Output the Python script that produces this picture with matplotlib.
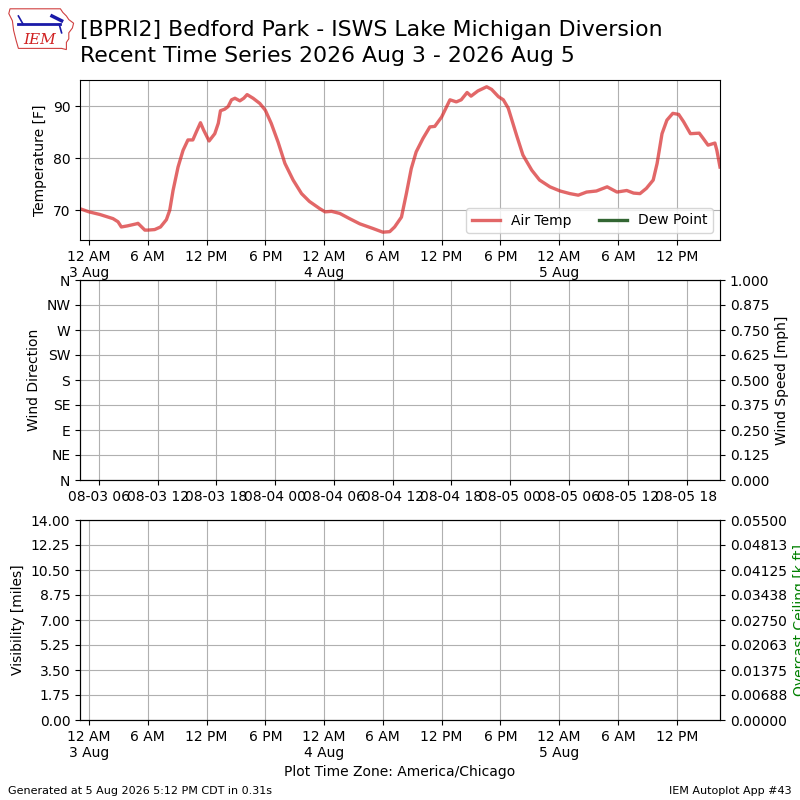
import datetime as dt
import numpy as np
import matplotlib
matplotlib.use("Agg")
import matplotlib.pyplot as plt
import matplotlib.dates as mdates
from matplotlib.ticker import FuncFormatter, FormatStrFormatter
from matplotlib.patches import Polygon

# ---------------- data ----------------
# hours since 2026-08-03 00:00 CDT
temp_hours = [-0.92, 0.0, 1.1, 2.45, 2.96, 3.3, 3.9, 4.84, 5.0, 5.7, 6.0, 6.7, 7.3, 7.9,
              8.24, 8.58, 9.09, 9.6, 10.1, 10.6, 10.97, 11.38, 11.7, 12.26, 12.84, 13.2,
              13.42, 13.85, 14.2, 14.55, 14.9, 15.4, 15.8, 16.14, 16.75, 17.44, 18.0,
              18.6, 19.3, 20.0, 20.84, 21.7, 22.5, 23.57, 24.1, 24.76, 25.6, 26.6, 27.65,
              29.0, 30.0, 30.7, 31.2, 31.9, 32.4, 32.9, 33.4, 34.1, 34.8, 35.3, 36.0,
              36.85, 37.5, 38.0, 38.6, 39.0, 39.7, 40.6, 41.1, 41.8, 42.3, 42.8, 43.65,
              44.3, 45.2, 46.0, 47.06, 48.1, 49.1, 49.95, 50.8, 51.8, 52.9, 53.4, 53.9,
              54.9, 55.6, 56.25, 56.9, 57.6, 58.0, 58.5, 59.0, 59.6, 60.2, 60.7, 61.4,
              62.3, 62.7, 63.2, 63.9, 64.1, 64.42]
temp_values = [70.3, 69.7, 69.2, 68.4, 67.8, 66.8, 67.0, 67.4, 67.5, 66.2, 66.2, 66.3, 66.8, 68.2,
               70.0, 73.8, 78.3, 81.5, 83.5, 83.5, 85.1, 86.8, 85.4, 83.3, 84.7, 86.7,
               89.1, 89.4, 89.9, 91.2, 91.5, 91.0, 91.5, 92.2, 91.5, 90.5, 89.2,
               86.7, 83.1, 79.0, 75.8, 73.2, 71.7, 70.3, 69.7, 69.8, 69.4, 68.4, 67.4,
               66.5, 65.8, 65.9, 66.8, 68.7, 73.2, 78.0, 81.2, 83.8, 86.0, 86.1, 87.9,
               91.2, 90.8, 91.2, 92.6, 91.9, 92.9, 93.7, 93.2, 91.8, 91.2, 89.6, 84.4,
               80.6, 77.7, 75.8, 74.5, 73.7, 73.2, 72.9, 73.5, 73.7, 74.5, 74.0, 73.5,
               73.8, 73.3, 73.2, 74.2, 75.8, 79.0, 84.7, 87.3, 88.6, 88.4, 87.0, 84.7,
               84.8, 83.8, 82.5, 82.9, 81.5, 78.3]
dewp_hours = []
dewp_values = []

dir_ticks = [0, 45, 90, 135, 180, 225, 270, 315, 360]
dir_labels = ["N", "NE", "E", "SE", "S", "SW", "W", "NW", "N"]
speed_ticks = [0, 0.125, 0.25, 0.375, 0.5, 0.625, 0.75, 0.875, 1.0]
vis_ticks = [0, 1.75, 3.5, 5.25, 7.0, 8.75, 10.5, 12.25, 14.0]
ceil_ticks = [0, 0.006875, 0.01375, 0.020625, 0.0275, 0.034375, 0.04125, 0.048125, 0.055]

# ---------------- setup ----------------
CDT = dt.timezone(dt.timedelta(hours=-5))
base = dt.datetime(2026, 8, 3, 0, 0, tzinfo=CDT)
t_times = [base + dt.timedelta(hours=h) for h in temp_hours]
d_times = [base + dt.timedelta(hours=h) for h in dewp_hours]
xmin = mdates.date2num(t_times[0])
xmax = mdates.date2num(t_times[-1])

plt.rcParams['timezone'] = 'UTC'

fig = plt.figure(figsize=(8, 8), dpi=100)

def local_fmt(x, pos=None):
    d = mdates.num2date(x, tz=CDT)
    h = d.hour % 12
    if h == 0:
        h = 12
    s = "%d %s" % (h, "AM" if d.hour < 12 else "PM")
    if d.hour == 0:
        s += "\n%d %s" % (d.day, d.strftime("%b"))
    return s

def style_local(ax):
    ax.xaxis.set_major_locator(mdates.HourLocator(byhour=[0, 6, 12, 18], tz=CDT))
    ax.xaxis.set_major_formatter(FuncFormatter(local_fmt))
    ax.set_xlim(xmin, xmax)
    ax.grid(True)

# top: temperature
ax1 = fig.add_axes([0.1, 0.7, 0.8, 0.2])
ax1.plot(t_times, temp_values, color='tab:red', alpha=0.7, lw=2.4, label='Air Temp')
ax1.plot(d_times, dewp_values, color='#336633', lw=2.4, label='Dew Point')
ax1.set_ylim(64.3, 95.0)
ax1.set_yticks([70, 80, 90])
style_local(ax1)
ax1.set_ylabel("Temperature [F]")
ax1.legend(loc='lower right', ncol=2)

# middle: wind
ax2 = fig.add_axes([0.1, 0.4, 0.8, 0.25])
ax2.set_xlim(xmin, xmax)
ax2.xaxis_date()
ax2.set_ylim(0, 360)
ax2.set_yticks(dir_ticks)
ax2.set_yticklabels(dir_labels)
ax2.set_ylabel("Wind Direction")
ax2.grid(True)
ax2b = ax2.twinx()
ax2b.set_ylim(0, 1)
ax2b.set_yticks(speed_ticks)
ax2b.yaxis.set_major_formatter(FormatStrFormatter('%.3f'))
ax2b.set_ylabel("Wind Speed [mph]")
ax2.set_xlim(xmin, xmax)

# bottom: visibility / ceiling
ax3 = fig.add_axes([0.1, 0.1, 0.8, 0.25])
ax3.xaxis_date()
ax3.set_ylim(0, 14)
ax3.set_yticks(vis_ticks)
ax3.yaxis.set_major_formatter(FormatStrFormatter('%.2f'))
ax3.set_ylabel("Visibility [miles]")
style_local(ax3)
ax3.set_xlabel("Plot Time Zone: America/Chicago")
ax3b = ax3.twinx()
ax3b.set_ylim(0, 0.055)
ax3b.set_yticks(ceil_ticks)
ax3b.yaxis.set_major_formatter(FormatStrFormatter('%.5f'))
ax3b.set_ylabel("Overcast Ceiling [k ft]", color='green')
ax3.set_xlim(xmin, xmax)

# title
fig.text(0.1, 0.975, "[BPRI2] Bedford Park - ISWS Lake Michigan Diversion\n"
         "Recent Time Series 2026 Aug 3 - 2026 Aug 5",
         fontsize=15.8, va='top', ha='left', linespacing=1.38)

# footer
fig.text(0.01, 0.008, "Generated at 5 Aug 2026 5:12 PM CDT in 0.31s", fontsize=8)
fig.text(0.99, 0.008, "IEM Autoplot App #43", fontsize=8, ha='right')

# logo
lax = fig.add_axes([0.008, 0.935, 0.09, 0.06])
lax.set_xlim(0, 60)
lax.set_ylim(0, 40)
lax.axis('off')
iowa = [(3, 36), (45, 36), (47, 33), (50, 30), (52, 27), (56, 24), (55, 20),
        (52, 16), (52, 11), (50, 8), (50, 2), (46, 3), (10, 3), (8, 10),
        (6, 18), (5, 26), (2, 32)]
lax.add_patch(Polygon(iowa, closed=True, fill=False, edgecolor='#d04040', lw=0.8))
lax.plot([10, 45], [23, 23], color='#1a1aa8', lw=2)
lax.plot([10, 14], [30, 23], color='#1a1aa8', lw=1.2)
lax.plot([38, 46], [30, 26], color='#1a1aa8', lw=2.5)
lax.plot([44, 46], [23, 16], color='#1a1aa8', lw=1.2)
lax.text(28, 4, "IEM", color='#d02020', fontsize=11, family='DejaVu Serif',
         style='italic', ha='center', va='bottom')

fig.savefig("out.png", dpi=100)
